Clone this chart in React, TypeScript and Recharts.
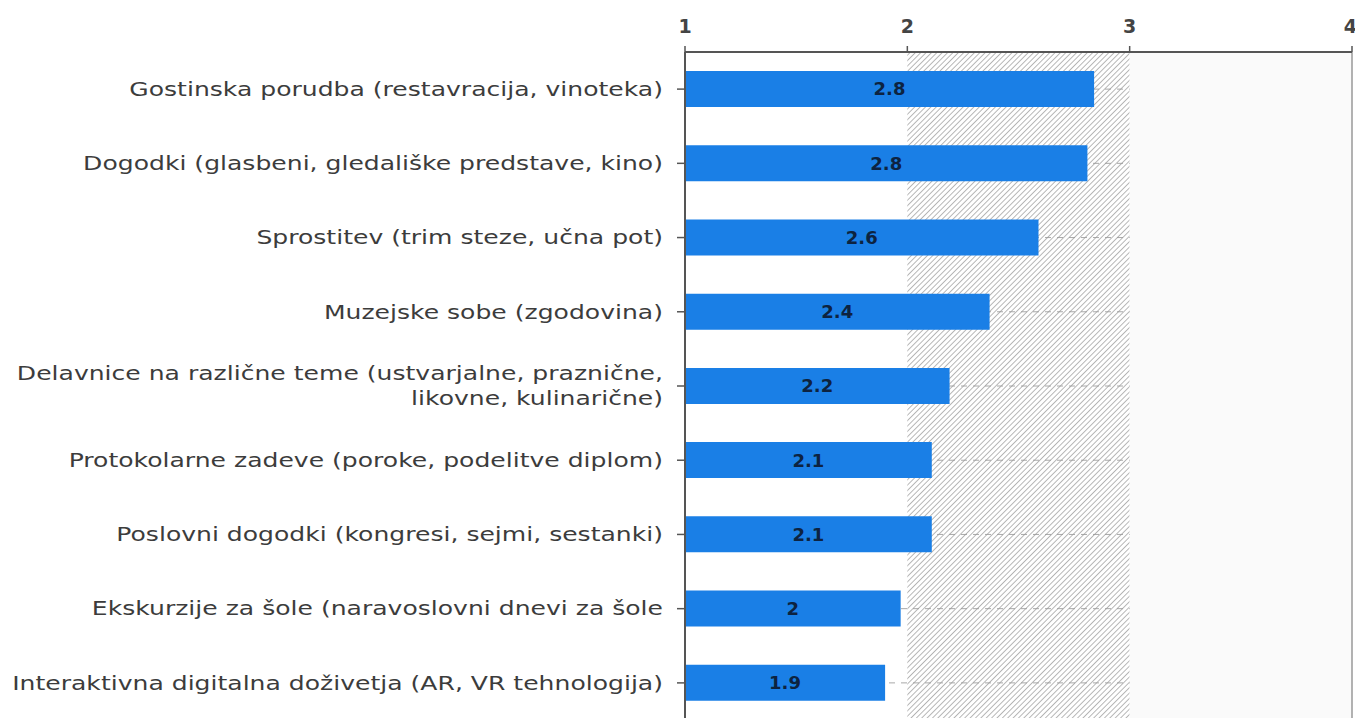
import React from 'react';
import { BarChart, Bar, XAxis, YAxis, CartesianGrid, ReferenceArea, ReferenceLine, LabelList } from 'recharts';

const categories = [
  'Gostinska porudba (restavracija, vinoteka)',
  'Dogodki (glasbeni, gledališke predstave, kino)',
  'Sprostitev (trim steze, učna pot)',
  'Muzejske sobe (zgodovina)',
  'Delavnice na različne teme (ustvarjalne, praznične,\nlikovne, kulinarične)',
  'Protokolarne zadeve (poroke, podelitve diplom)',
  'Poslovni dogodki (kongresi, sejmi, sestanki)',
  'Ekskurzije za šole (naravoslovni dnevi za šole',
  'Interaktivna digitalna doživetja (AR, VR tehnologija)',
];

const values = [2.84, 2.81, 2.59, 2.37, 2.19, 2.11, 2.11, 1.97, 1.9];
const valueLabels = ['2.8', '2.8', '2.6', '2.4', '2.2', '2.1', '2.1', '2', '1.9'];
const xTicks = [1, 2, 3, 4];

const data = categories.map((name, i) => ({ name, value: values[i], label: valueLabels[i] }));

const FONT = '"DejaVu Sans", Verdana, sans-serif';

// original y labels are drawn wide, so stretch the glyphs horizontally
const CategoryTick = ({ x, y, payload }: any) => {
  const lines: string[] = String(payload.value).split('\n');
  const lh = 25;
  const start = -((lines.length - 1) * lh) / 2;
  return (
    <g transform={`translate(${x},${y}) scale(1.32,1)`}>
      <text x={0} y={0} textAnchor="end" fill="#3c3c3c" fontSize={19} fontFamily={FONT} dominantBaseline="central">
        {lines.map((l, i) => (
          <tspan key={i} x={0} dy={i === 0 ? start : lh}>
            {l}
          </tspan>
        ))}
      </text>
    </g>
  );
};

export default function App() {
  return (
    <div style={{ position: 'absolute', left: 0, top: 0, background: '#fff' }}>
      <svg width={0} height={0} style={{ position: 'absolute' }}>
        <defs>
          <pattern id="hatch" width={3.8} height={3.8} patternUnits="userSpaceOnUse" patternTransform="rotate(45)">
            <line x1={0} y1={0} x2={0} y2={3.8} stroke="#999" strokeWidth={1.4} />
          </pattern>
        </defs>
      </svg>
      <BarChart
        width={1355}
        height={740}
        data={data}
        layout="vertical"
        margin={{ top: 0, right: 3, bottom: 20, left: 0 }}
        barSize={36}
      >
        <ReferenceArea x1={2} x2={3} fill="url(#hatch)" fillOpacity={1} stroke="none" />
        <CartesianGrid horizontal vertical={false} stroke="#a8a8a8" strokeDasharray="6 6" />
        <ReferenceArea x1={3} x2={4} fill="#fafafa" fillOpacity={1} stroke="none" />
        <ReferenceLine x={4} stroke="#999" strokeWidth={1.5} />
        <XAxis
          type="number"
          orientation="top"
          domain={[1, 4]}
          ticks={xTicks}
          height={52}
          axisLine={{ stroke: '#555', strokeWidth: 2 }}
          tickLine={{ stroke: '#555', strokeWidth: 1.5 }}
          tickSize={6}
          tickMargin={13}
          tick={{ fontSize: 19, fontWeight: 'bold', fill: '#444', fontFamily: FONT }}
          allowDataOverflow
        />
        <YAxis
          type="category"
          dataKey="name"
          width={685}
          axisLine={{ stroke: '#555', strokeWidth: 2 }}
          tickLine={{ stroke: '#555', strokeWidth: 1.5 }}
          tickSize={8}
          tickMargin={14}
          tick={<CategoryTick />}
          interval={0}
        />
        <Bar dataKey="value" fill="#1a7fe6" isAnimationActive={false}>
          <LabelList dataKey="label" position="center" fill="#0d2340" fontSize={18} fontWeight="bold" fontFamily={FONT} />
        </Bar>
      </BarChart>
    </div>
  );
}
